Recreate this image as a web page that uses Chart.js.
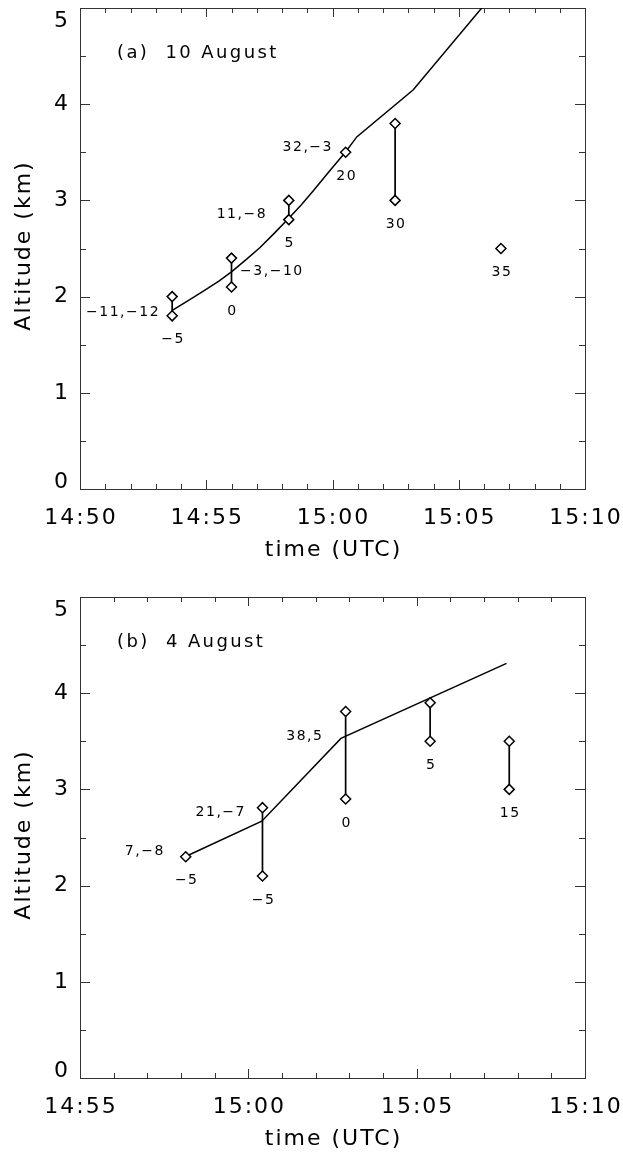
<!DOCTYPE html>
<html lang="en">
<head>
<meta charset="UTF-8">
<title>Altitude vs time (UTC), 10 and 4 August</title>
<script src="https://cdn.jsdelivr.net/npm/chart.js"></script>
<style>
  body { margin: 0; background: #fff; }
  canvas { display: block; }
</style>
</head>
<body>
<canvas id="chartA" width="623" height="578"></canvas>
<canvas id="chartB" width="623" height="578"></canvas>
<script>
// (a) 10 August, times in minutes after 14:50
const timesA = [3.65, 6.0, 8.27, 10.52, 12.48, 16.67];
const highA = [2.0, 2.4, 3.0, 3.5, 3.8, 2.5];
const lowA = [1.8, 2.1, 2.8, null, 3.0, null];
const underTextA = ['−5', '0', '5', '20', '30', '35'];
const pairTextA = ['−11,−12', '−3,−10', '11,−8', '32,−3'];
const pairTimeA = [3.17, 6.34, 7.41, 10.02];
const pairAltA = [1.84, 2.26, 2.85, 3.55];
const pairAlignA = ['right', 'left', 'right', 'right'];
const fitTimeA = [3.67, 4.3, 4.9, 5.5, 6.01, 6.6, 7.13, 7.7, 8.25, 8.75, 9.24, 9.90, 10.51, 10.96, 13.20, 15.91, 16.5];
const fitAltA = [1.86, 1.96, 2.06, 2.16, 2.26, 2.39, 2.51, 2.66, 2.81, 2.95, 3.10, 3.31, 3.50, 3.66, 4.15, 5.00, 5.19];

// (b) 4 August, times in minutes after 14:55
const timesB = [3.14, 5.42, 7.89, 10.40, 12.75];
const highB = [2.30, 2.81, 3.81, 3.90, 3.50];
const lowB = [null, 2.10, 2.90, 3.50, 3.00];
const underTextB = ['−5', '−5', '0', '5', '15'];
const pairTextB = ['7,−8', '21,−7', '38,5'];
const pairTimeB = [2.52, 4.93, 7.23];
const pairAltB = [2.36, 2.76, 3.55];
const pairAlignB = ['right', 'right', 'right'];
const fitTimeB = [3.12, 5.40, 7.75, 12.67];
const fitAltB = [2.30, 2.67, 3.53, 4.31];

const altTicks = [0, 1, 2, 3, 4, 5];
const FONT = '"DejaVu Sans", sans-serif';

function clock(base, m) {
  const total = base + Math.round(m);
  return Math.floor(total / 60) + ':' + String(total % 60).padStart(2, '0');
}

// box, inward ticks, tick labels, axis titles and point annotations
const axesPlugin = {
  id: 'axesBox',
  beforeDatasetsDraw(chart, args, o) {
    const { ctx, chartArea: a, scales: { x, y } } = chart;
    ctx.save();
    ctx.strokeStyle = '#333';
    ctx.lineWidth = 1;
    ctx.strokeRect(a.left + 0.5, a.top + 0.5, a.right - a.left, a.bottom - a.top);
    ctx.beginPath();
    x.ticks.forEach(t => {
      const px = Math.round(x.getPixelForValue(t.value)) + 0.5;
      const len = t.value % 5 === 0 ? 9 : 5;
      ctx.moveTo(px, a.bottom); ctx.lineTo(px, a.bottom - len);
      ctx.moveTo(px, a.top); ctx.lineTo(px, a.top + len);
    });
    y.ticks.forEach(t => {
      const py = Math.round(y.getPixelForValue(t.value)) + 0.5;
      const len = Number.isInteger(t.value) ? 10 : 6;
      ctx.moveTo(a.left, py); ctx.lineTo(a.left + len, py);
      ctx.moveTo(a.right, py); ctx.lineTo(a.right - len, py);
    });
    ctx.stroke();

    ctx.fillStyle = '#000';
    ctx.font = '22px ' + FONT;
    ctx.letterSpacing = '2px';
    ctx.textBaseline = 'middle';
    ctx.textAlign = 'center';
    x.ticks.forEach(t => {
      if (t.value % 5 !== 0) return;
      ctx.fillText(clock(o.base, t.value), x.getPixelForValue(t.value) + 1, a.bottom + 29);
    });
    ctx.textAlign = 'right';
    altTicks.forEach(v => {
      // keep end labels inside the box height
      const py = Math.min(Math.max(y.getPixelForValue(v), a.top + 13), a.bottom - 7);
      ctx.fillText(String(v), a.left - 10, py);
    });
    ctx.textAlign = 'center';
    ctx.fillText('time (UTC)', (a.left + a.right) / 2 + 1, a.bottom + 61);
    ctx.save();
    ctx.translate(24, (a.top + a.bottom) / 2 - 3);
    ctx.rotate(-Math.PI / 2);
    ctx.fillText('Altitude (km)', 0, 0);
    ctx.restore();

    ctx.font = '18px ' + FONT;
    ctx.letterSpacing = '2.4px';
    ctx.textAlign = 'left';
    ctx.fillText(o.title, a.left + 37, a.top + 45);
    ctx.restore();
  },
  afterDatasetsDraw(chart, args, o) {
    const { ctx, scales: { x, y } } = chart;
    ctx.save();
    ctx.fillStyle = '#000';
    ctx.font = '14px ' + FONT;
    ctx.letterSpacing = '1.5px';
    ctx.textBaseline = 'middle';
    o.pairText.forEach((s, i) => {
      ctx.textAlign = o.pairAlign[i];
      ctx.fillText(s, x.getPixelForValue(o.pairTime[i]), y.getPixelForValue(o.pairAlt[i]));
    });
    ctx.textAlign = 'center';
    o.times.forEach((t, i) => {
      const bottomAlt = o.low[i] === null ? o.high[i] : o.low[i];
      ctx.fillText(o.underText[i], x.getPixelForValue(t) + 1, y.getPixelForValue(bottomAlt) + 24);
    });
    ctx.restore();
  }
};

function makeChart(id, s) {
  const segments = [];
  s.times.forEach((t, i) => {
    if (s.low[i] === null) return;
    segments.push({ x: t, y: s.high[i] }, { x: t, y: s.low[i] }, { x: t, y: null });
  });
  const diamonds = [];
  s.times.forEach((t, i) => {
    diamonds.push({ x: t, y: s.high[i] });
    if (s.low[i] !== null) diamonds.push({ x: t, y: s.low[i] });
  });
  const fit = s.fitTime.map((t, i) => ({ x: t, y: s.fitAlt[i] }));

  return new Chart(document.getElementById(id), {
    type: 'scatter',
    data: {
      datasets: [
        {
          data: diamonds, order: 0,
          pointStyle: 'rectRot', pointRadius: 5, pointBorderWidth: 1.5,
          pointBackgroundColor: '#fff', pointBorderColor: '#000'
        },
        {
          type: 'line', data: segments, order: 1, spanGaps: false,
          borderColor: '#000', borderWidth: 1.7, pointRadius: 0
        },
        {
          type: 'line', data: fit, order: 2,
          borderColor: '#000', borderWidth: 1.5, pointRadius: 0
        }
      ]
    },
    options: {
      responsive: false,
      animation: false,
      events: [],
      layout: { padding: { left: 0, right: 38, top: s.padTop, bottom: 0 } },
      plugins: {
        legend: { display: false },
        tooltip: { enabled: false },
        axesBox: {
          base: s.base, title: s.title, times: s.times, high: s.high, low: s.low,
          underText: s.underText, pairText: s.pairText, pairTime: s.pairTime,
          pairAlt: s.pairAlt, pairAlign: s.pairAlign
        }
      },
      scales: {
        x: {
          type: 'linear', min: 0, max: s.span,
          ticks: { display: false, stepSize: 1 },
          grid: { display: false }, border: { display: false },
          afterFit: sc => { sc.height = s.axisHeight; sc.paddingLeft = 0; sc.paddingRight = 0; }
        },
        y: {
          min: 0, max: 5,
          ticks: { display: false, stepSize: 0.5 },
          grid: { display: false }, border: { display: false },
          afterFit: sc => { sc.width = 80; sc.paddingTop = 0; sc.paddingBottom = 0; }
        }
      }
    },
    plugins: [axesPlugin]
  });
}

makeChart('chartA', {
  base: 14 * 60 + 50, span: 20, title: '(a)  10 August', padTop: 8, axisHeight: 89,
  times: timesA, high: highA, low: lowA, underText: underTextA,
  pairText: pairTextA, pairTime: pairTimeA, pairAlt: pairAltA, pairAlign: pairAlignA,
  fitTime: fitTimeA, fitAlt: fitAltA
});

makeChart('chartB', {
  base: 14 * 60 + 55, span: 15, title: '(b)  4 August', padTop: 19, axisHeight: 78,
  times: timesB, high: highB, low: lowB, underText: underTextB,
  pairText: pairTextB, pairTime: pairTimeB, pairAlt: pairAltB, pairAlign: pairAlignB,
  fitTime: fitTimeB, fitAlt: fitAltB
});
</script>
</body>
</html>
